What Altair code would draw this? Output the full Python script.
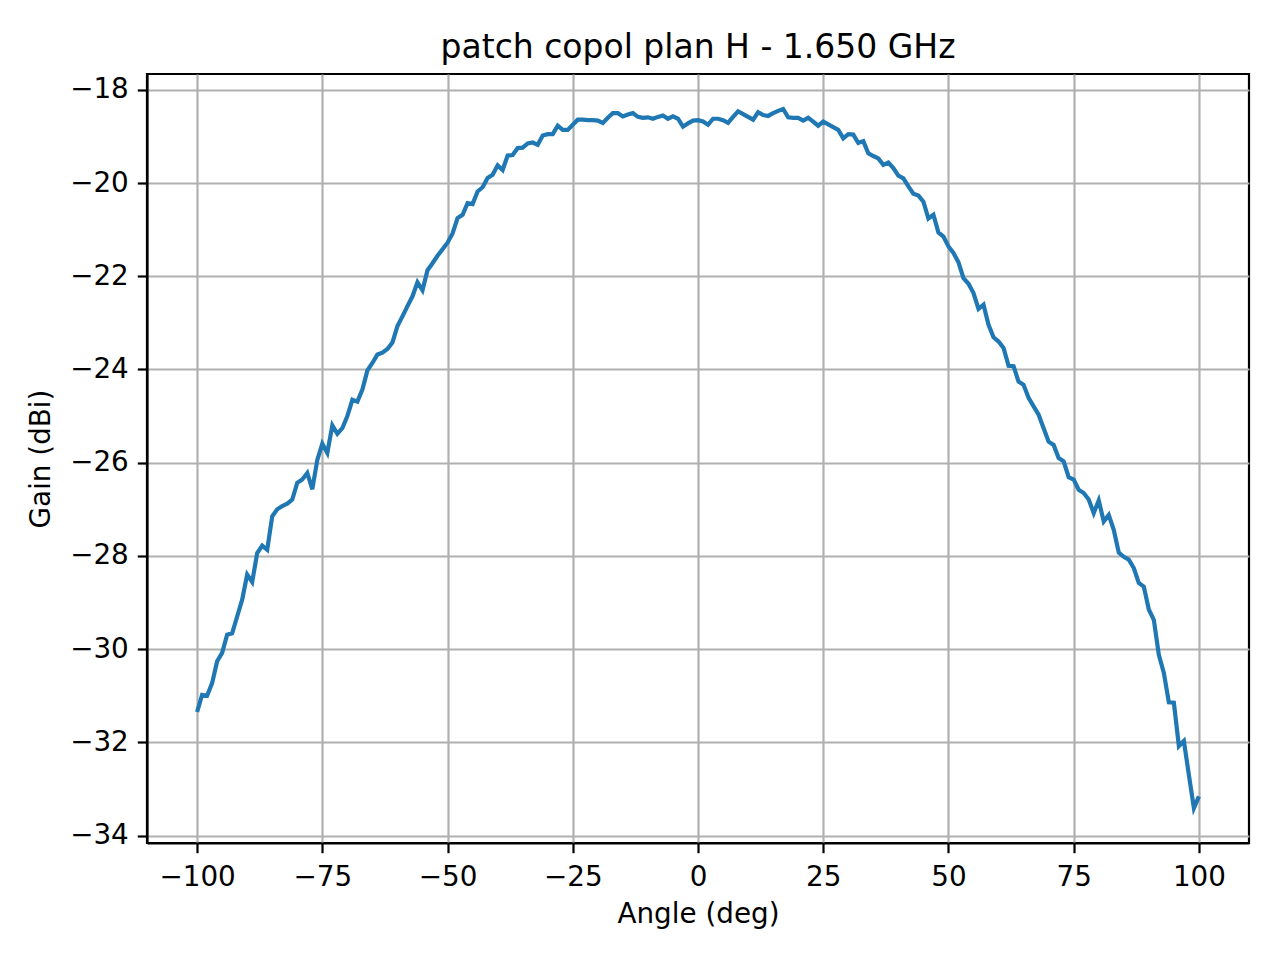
import pandas as pd
import altair as alt

# angle in degrees, 1 deg steps
angle = list(range(-100, 101))

gain = [
    -31.35, -30.98, -31.00, -30.73, -30.26, -30.08, -29.69, -29.66, -29.30, -28.94,
    -28.40, -28.56, -27.94, -27.78, -27.87, -27.15, -27.00, -26.93, -26.88, -26.79,
    -26.43, -26.36, -26.22, -26.57, -25.94, -25.59, -25.79, -25.20, -25.38, -25.26,
    -25.00, -24.65, -24.69, -24.43, -24.02, -23.86, -23.68, -23.64, -23.56, -23.42,
    -23.07, -22.86, -22.64, -22.43, -22.13, -22.30, -21.87, -21.72, -21.56, -21.42,
    -21.28, -21.08, -20.75, -20.68, -20.43, -20.45, -20.18, -20.09, -19.89, -19.82,
    -19.62, -19.72, -19.41, -19.40, -19.25, -19.24, -19.15, -19.13, -19.18, -18.98,
    -18.95, -18.95, -18.77, -18.86, -18.86, -18.75, -18.64, -18.64, -18.65, -18.65,
    -18.66, -18.71, -18.60, -18.50, -18.50, -18.57, -18.53, -18.50, -18.58, -18.60,
    -18.59, -18.62, -18.58, -18.55, -18.62, -18.57, -18.62, -18.79, -18.72, -18.66,
    -18.65,
    -18.68, -18.75, -18.62, -18.62, -18.65, -18.71, -18.58, -18.46, -18.52, -18.58,
    -18.64, -18.48, -18.54, -18.56, -18.50, -18.45, -18.41, -18.59, -18.60, -18.60,
    -18.66, -18.60, -18.68, -18.77, -18.68, -18.74, -18.80, -18.86, -19.04, -18.95,
    -18.96, -19.14, -19.10, -19.36, -19.42, -19.47, -19.61, -19.56, -19.68, -19.84,
    -19.90, -20.07, -20.23, -20.27, -20.40, -20.76, -20.68, -21.06, -21.15, -21.36,
    -21.50, -21.70, -22.04, -22.16, -22.36, -22.70, -22.61, -23.04, -23.31, -23.40,
    -23.54, -23.92, -23.93, -24.26, -24.33, -24.61, -24.79, -24.97, -25.26, -25.55,
    -25.62, -25.90, -25.97, -26.31, -26.36, -26.58, -26.65, -26.79, -27.08, -26.81,
    -27.26, -27.12, -27.44, -27.93, -28.02, -28.08, -28.26, -28.58, -28.66, -29.15,
    -29.37, -30.12, -30.51, -31.14, -31.15, -32.08, -31.97, -32.70, -33.41, -33.16,
]

x_ticks = [-100, -75, -50, -25, 0, 25, 50, 75, 100]
y_ticks = [-34, -32, -30, -28, -26, -24, -22, -20, -18]

df = pd.DataFrame({'angle': angle, 'gain': gain})

font = 'DejaVu Sans'

chart = alt.Chart(df, title=alt.Title('patch copol plan H - 1.650 GHz', fontSize=33, fontWeight='normal',
                                       font=font, color='black', offset=9)).mark_line(
    color='#1f77b4', strokeWidth=4.2, clip=True
).encode(
    x=alt.X('angle:Q', title='Angle (deg)',
            scale=alt.Scale(domain=[-110, 110], nice=False, zero=False),
            axis=alt.Axis(values=x_ticks, format='d', labelPadding=11)),
    y=alt.Y('gain:Q', title='Gain (dBi)',
            scale=alt.Scale(domain=[-34.16, -17.66], nice=False, zero=False),
            axis=alt.Axis(values=y_ticks, format='d'))
).properties(
    width=1102,
    height=769,
    autosize=alt.AutoSizeParams(type='none'),
    padding={'left': 139, 'top': 66, 'right': 23, 'bottom': 109}
).configure_view(
    stroke='black',
    strokeWidth=2.2
).configure_axis(
    labelFont=font,
    titleFont=font,
    labelFontSize=27.8,
    titleFontSize=27.8,
    titleFontWeight='normal',
    labelColor='black',
    titleColor='black',
    domainColor='black',
    domainWidth=2.2,
    tickColor='black',
    tickWidth=2.2,
    tickSize=9.7,
    labelPadding=9,
    grid=True,
    gridColor='#b0b0b0',
    gridWidth=2.2
).configure_axisX(
    titlePadding=9
).configure_axisY(
    titlePadding=14
)

chart.save('out.html', embed_options={'renderer': 'svg', 'actions': False})
